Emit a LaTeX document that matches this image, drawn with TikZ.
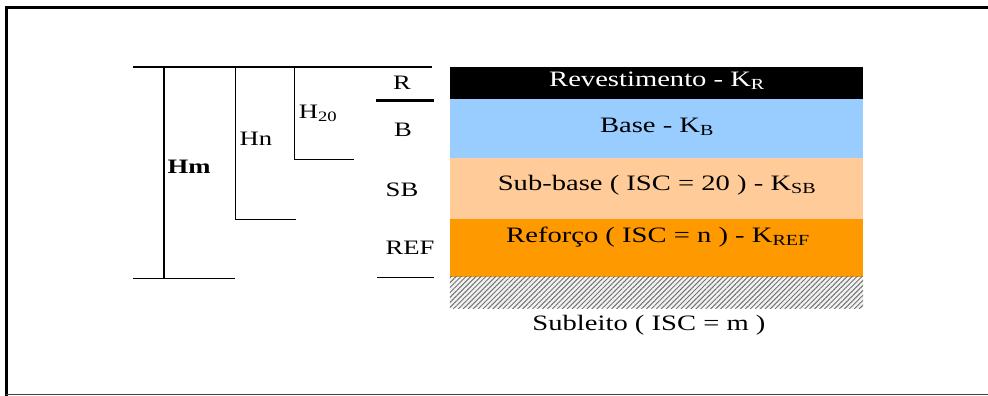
\documentclass[tikz,border=0pt]{standalone}
\usepackage{fontspec}
\setmainfont{Liberation Serif}[FakeStretch=1.3]
\usetikzlibrary{patterns.meta}
\definecolor{baseblue}{HTML}{99CCFF}
\definecolor{subpeach}{HTML}{FFCC99}
\definecolor{reforange}{HTML}{FF9900}
\tikzset{
  lbl/.style={inner sep=0pt, font=\fontsize{22}{24}\selectfont},
  smlbl/.style={inner sep=0pt, font=\fontsize{20.5}{23}\selectfont},
  layer/.style={draw=none, inner sep=0pt, minimum width=413pt},
  dimline/.style={line width=0.9pt},
  thickdim/.style={line width=2pt},
}
\begin{document}
\begin{tikzpicture}[x=1pt,y=-1pt]
\useasboundingbox (0,0) rectangle (988,396);
% frame
\draw[line width=3pt] (6,396) -- (6,8) -- (988,8);
\draw[line width=1.5pt, black!75] (6,394.5) -- (988,394.5);
% layers
\node[layer, fill=black, minimum height=32pt] (rev) at (656.5,83) {};
\node[layer, fill=baseblue, minimum height=59pt] (base) at (656.5,128.5) {};
\node[layer, fill=subpeach, minimum height=61pt] (sub) at (656.5,188.5) {};
\node[layer, fill=reforange, minimum height=58pt] (ref) at (656.5,248) {};
\node[layer, minimum height=31pt, fill=gray!10] (subl) at (656.5,292.5) {};
\fill[pattern={Lines[angle=45,distance=3.5pt,line width=1pt]}, pattern color=black!55] (subl.north west) rectangle (subl.south east);
% layer texts
\node[lbl, text=white] (trev) at (657,81) {Revestimento - K\textsubscript{R}};
\node[lbl] (tbase) at (657,127) {Base - K\textsubscript{B}};
\node[lbl] (tsub) at (657,185) {Sub-base ( ISC = 20 ) - K\textsubscript{SB}};
\node[lbl] (tref) at (658,237) {Reforço ( ISC = n ) - K\textsubscript{REF}};
\node[lbl] (tsubl) at (649,325) {Subleito ( ISC = m )};
% dimension lines
\coordinate (topL) at (133,67);
\coordinate (topR) at (432,67);
\draw[thickdim] (topL) -- (topR);
\coordinate (hmT) at (164,67);
\coordinate (hmB) at (164,278);
\draw[thickdim] (hmT) -- (hmB);
\coordinate (botL) at (133,278);
\coordinate (botR) at (235,278);
\draw[dimline] (botL) -- (botR);
\coordinate (hnT) at (235,67);
\coordinate (hnB) at (235,219);
\coordinate (hnR) at (296,219);
\draw[dimline] (hnT) -- (hnB) -- (hnR);
\coordinate (h20T) at (294,67);
\coordinate (h20B) at (294,159);
\coordinate (h20R) at (354,159);
\draw[dimline] (h20T) -- (h20B) -- (h20R);
\coordinate (rL) at (376,100);
\coordinate (rR) at (434,100);
\draw[line width=3pt] (rL) -- (rR);
\coordinate (refL) at (377,277);
\coordinate (refR) at (434,277);
\draw[dimline] (refL) -- (refR);
% labels
\node[smlbl, font=\fontsize{20.5}{23}\selectfont\bfseries] (hm) at (189,167) {Hm};
\node[smlbl] (hn) at (256,139) {Hn};
\node[smlbl] (h20) at (318,113) {H\textsubscript{20}};
\node[smlbl] (lr) at (402,83) {R};
\node[smlbl] (lb) at (403,130) {B};
\node[smlbl] (lsb) at (402,190) {SB};
\node[smlbl] (lref) at (410,248) {REF};
\end{tikzpicture}
\end{document}
